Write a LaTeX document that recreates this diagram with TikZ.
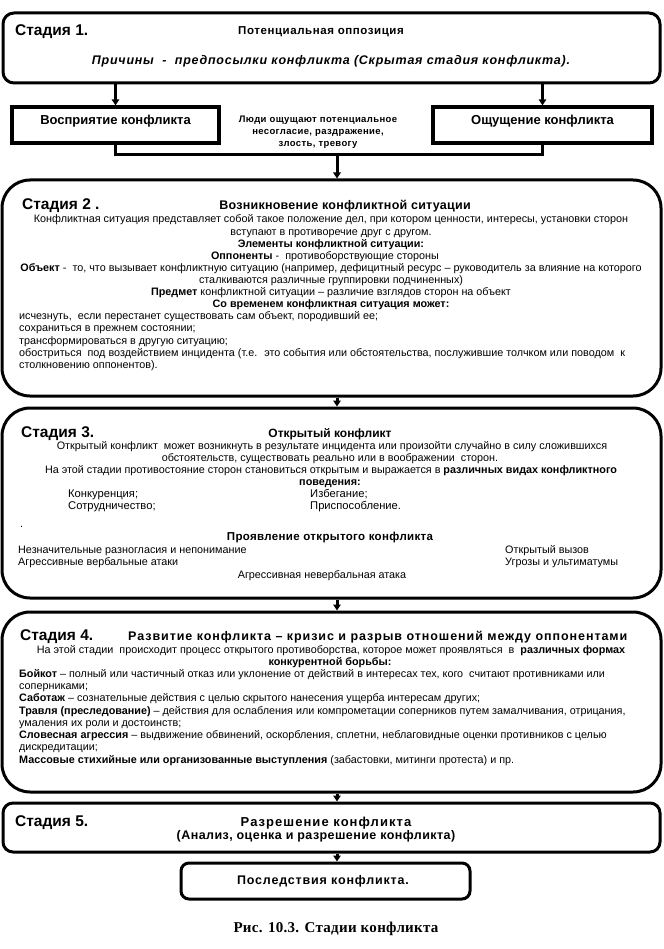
\documentclass[tikz,border=0pt]{standalone}
\usepackage{fontspec}
\setmainfont{Liberation Sans}
\newfontfamily\capfont{Liberation Serif}
\usetikzlibrary{arrows.meta}
\newcommand{\ls}[1]{\addfontfeature{LetterSpace=#1}}
\begin{document}
\begin{tikzpicture}[x=1pt,y=-1pt,
  bigbox/.style={draw, line width=3pt, rounded corners=28pt, inner sep=0pt},
  smallround/.style={draw, line width=3pt, rounded corners=11pt, inner sep=0pt},
  sqbox/.style={draw, line width=3.2pt, inner sep=0pt},
  conn/.style={line width=3pt},
  arr/.style={line width=3pt, -{Triangle[length=6pt,width=7.5pt]}},
  lbl/.style={font=\fontsize{15.5}{17}\selectfont\bfseries, anchor=base west, inner sep=0pt},
  ttl/.style={font=\fontsize{12}{14}\selectfont\bfseries, anchor=base, inner sep=0pt},
  tx/.style={font=\fontsize{10.8}{12}\selectfont, anchor=base, inner sep=0pt},
  txl/.style={tx, anchor=base west},
  txb/.style={tx, font=\fontsize{10.8}{12}\selectfont\bfseries},
  mid/.style={font=\fontsize{9.5}{11}\selectfont\bfseries\ls{4}, anchor=base, inner sep=0pt}
]
\useasboundingbox (0,0) rectangle (663,949);

% ---------- Stage 1
\node[smallround, minimum width=657pt, minimum height=70pt] (s1) at (331.5,48) {};
\node[lbl] (s1l) at (15,36) {Стадия 1.};
\node[ttl, font=\fontsize{11.5}{13}\selectfont\bfseries\ls{5}] (s1t) at (321,35) {Потенциальная оппозиция};
\node[ttl, font=\fontsize{12.5}{14}\selectfont\bfseries\itshape\ls{6}] (s1c) at (331,65) {Причины \ - \ предпосылки конфликта (Скрытая стадия конфликта).};

\node[sqbox, minimum width=207pt, minimum height=36pt] (bl) at (115.5,125) {};
\node[ttl, font=\fontsize{13}{14}\selectfont\bfseries] (blt) at (115.5,125) {Восприятие конфликта};
\node[sqbox, minimum width=219pt, minimum height=36pt] (br) at (542.5,125) {};
\node[ttl, font=\fontsize{13}{14}\selectfont\bfseries] (brt) at (542.5,125) {Ощущение конфликта};
\node[mid] (m1) at (318,123) {Люди ощущают потенциальное};
\node[mid] (m2) at (318,135) {несогласие, раздражение,};
\node[mid] (m3) at (318,147) {злость, тревогу};

\coordinate (j) at (337,155);
\draw[arr] (s1.south -| bl) -- (bl.north);
\draw[arr] (s1.south -| br) -- (br.north);
\draw[conn] (bl.south) -- (bl.south |- j) -- (br.south |- j) -- (br.south);

% ---------- Stage 2
\node[bigbox, minimum width=659pt, minimum height=216pt] (s2) at (331.5,288) {};
\draw[arr] (j) -- (j |- s2.north);
\node[lbl] (s2l) at (22,210) {Стадия 2 .};
\node[ttl, font=\fontsize{12.5}{14}\selectfont\bfseries\ls{2}] (s2t) at (345,210) {Возникновение конфликтной ситуации};
\node[tx] (s2a) at (331,223) {Конфликтная ситуация представляет собой такое положение дел, при котором ценности, интересы, установки сторон};
\node[tx] (s2b) at (331,235.1) {вступают в противоречие друг с другом.};
\node[txb] (s2c) at (331,247.2) {Элементы конфликтной ситуации:};
\node[tx] (s2d) at (325,259.3) {\textbf{Оппоненты} - \ противоборствующие стороны};
\node[tx] (s2e) at (331,271.4) {\textbf{Объект} - \ то, что вызывает конфликтную ситуацию (например, дефицитный ресурс – руководитель за влияние на которого};
\node[tx] (s2f) at (331,283.5) {сталкиваются различные группировки подчиненных)};
\node[tx] (s2g) at (331,295.6) {\textbf{Предмет} конфликтной ситуации – различие взглядов сторон на объект};
\node[txb] (s2h) at (331,307.7) {Со временем конфликтная ситуация может:};
\node[txl] (s2i) at (19,319.8) {исчезнуть, \ если перестанет существовать сам объект, породивший ее;};
\node[txl] (s2j) at (19,331.9) {сохраниться в прежнем состоянии;};
\node[txl] (s2k) at (19,344) {трансформироваться в другую ситуацию;};
\node[txl] (s2m) at (19,356.1) {обостриться \ под воздействием инцидента (т.е. \ это события или обстоятельства, послужившие толчком или поводом \ к};
\node[txl] (s2n) at (19,368.5) {столкновению оппонентов).};

% ---------- Stage 3
\node[bigbox, minimum width=659pt, minimum height=190pt] (s3) at (331.5,503) {};
\draw[arr] (s2.south -| j) -- (s3.north -| j);
\node[lbl] (s3l) at (21,437) {Стадия 3.};
\node[ttl] (s3t) at (330,437) {Открытый конфликт};
\node[tx] (s3a) at (332,449.5) {Открытый конфликт \ может возникнуть в результате инцидента или произойти случайно в силу сложившихся};
\node[tx] (s3b) at (330,461.5) {обстоятельств, существовать реально или в воображении \ сторон.};
\node[tx] (s3c) at (331,473.5) {На этой стадии противостояние сторон становиться открытым и выражается в \textbf{различных видах конфликтного}};
\node[txb] (s3d) at (330,485.5) {поведения:};
\node[txl, font=\fontsize{11.2}{13}\selectfont] (s3e) at (68,497.5) {Конкуренция;};
\node[txl, font=\fontsize{11.2}{13}\selectfont] (s3f) at (310,497.5) {Избегание;};
\node[txl, font=\fontsize{11.2}{13}\selectfont] (s3g) at (68,509.5) {Сотрудничество;};
\node[txl, font=\fontsize{11.2}{13}\selectfont] (s3h) at (310,509.5) {Приспособление.};
\node[txl] (s3i) at (20,527) {.};
\node[ttl, font=\fontsize{11.5}{13}\selectfont\bfseries\ls{3}] (s3j) at (330,540) {Проявление открытого конфликта};
\node[txl] (s3k) at (18,553) {Незначительные разногласия и непонимание};
\node[txl] (s3m) at (505,553) {Открытый вызов};
\node[txl] (s3n) at (18,565) {Агрессивные вербальные атаки};
\node[txl] (s3o) at (505,565) {Угрозы и ультиматумы};
\node[tx] (s3p) at (322,578) {Агрессивная невербальная атака};

% ---------- Stage 4
\node[bigbox, minimum width=659pt, minimum height=180pt] (s4) at (331.5,702) {};
\draw[arr] (s3.south -| j) -- (s4.north -| j);
\node[lbl] (s4l) at (20,640) {Стадия 4.};
\node[ttl, anchor=base west, font=\fontsize{12.5}{14}\selectfont\bfseries\ls{7.5}] (s4t) at (128,640) {Развитие конфликта – кризис и разрыв отношений между оппонентами};
\node[tx] (s4a) at (331,653) {На этой стадии \ происходит процесс открытого противоборства, которое может проявляться \ в \ \textbf{различных формах}};
\node[txb] (s4b) at (330,665) {конкурентной борьбы:};
\node[txl] (s4c) at (19,677.5) {\textbf{Бойкот} – полный или частичный отказ или уклонение от действий в интересах тех, кого \ считают противниками или};
\node[txl] (s4d) at (19,689.7) {соперниками;};
\node[txl] (s4e) at (19,701.9) {\textbf{Саботаж} – сознательные действия с целью скрытого нанесения ущерба интересам других;};
\node[txl] (s4f) at (19,714.1) {\textbf{Травля (преследование)} – действия для ослабления или компрометации соперников путем замалчивания, отрицания,};
\node[txl] (s4g) at (19,726.3) {умаления их роли и достоинств;};
\node[txl] (s4h) at (19,738.5) {\textbf{Словесная агрессия} – выдвижение обвинений, оскорбления, сплетни, неблаговидные оценки противников с целью};
\node[txl] (s4i) at (19,750.7) {дискредитации;};
\node[txl] (s4k) at (19,763.5) {\textbf{Массовые стихийные или организованные выступления} (забастовки, митинги протеста) и пр.};

% ---------- Stage 5
\node[smallround, rounded corners=10pt, minimum width=657pt, minimum height=49pt] (s5) at (331.5,827.5) {};
\draw[arr] (s4.south -| j) -- (s5.north -| j);
\node[lbl] (s5l) at (15,826) {Стадия 5.};
\node[ttl, font=\fontsize{13}{14}\selectfont\bfseries\ls{8}] (s5t) at (326,826) {Разрешение конфликта};
\node[ttl, font=\fontsize{12.5}{14}\selectfont\bfseries\ls{3.5}] (s5c) at (316,839.5) {(Анализ, оценка и разрешение конфликта)};

% ---------- Consequences
\node[smallround, rounded corners=8pt, minimum width=289pt, minimum height=36pt] (s6) at (325.5,881) {};
\draw[arr] (s5.south -| j) -- (s6.north -| j);
\node[ttl, font=\fontsize{12.5}{14}\selectfont\bfseries\ls{6.5}] (s6t) at (323,884.5) {Последствия конфликта.};

\node[font=\capfont\fontsize{15}{17}\selectfont\bfseries\ls{2}, anchor=base, inner sep=0pt] (cap) at (336,932) {Рис. 10.3. Стадии конфликта};
\end{tikzpicture}
\end{document}
